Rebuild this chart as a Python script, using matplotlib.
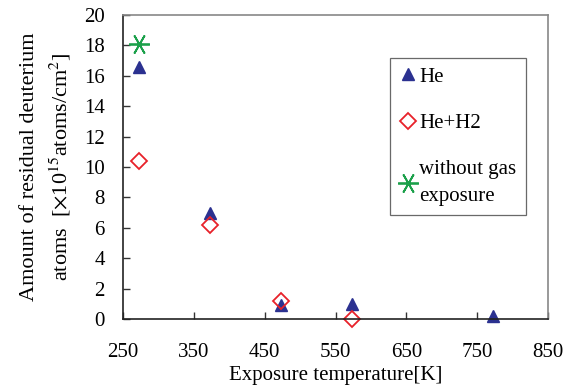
import matplotlib.pyplot as plt

plt.rcParams['font.family'] = ['Liberation Serif', 'DejaVu Serif']
plt.rcParams['mathtext.fontset'] = 'stix'

temp_he = [273, 373, 473, 573, 773]
d_he = [16.6, 7.0, 0.9, 1.0, 0.2]
temp_heh2 = [273, 373, 473, 573]
d_heh2 = [10.4, 6.2, 1.2, 0.0]
temp_nogas = [273]
d_nogas = [18.1]

fig = plt.figure(figsize=(5.73, 3.91), dpi=100)
ax = fig.add_axes([123 / 573, 1 - 319 / 391, 425 / 573, 304 / 391])

ax.plot(temp_he, d_he, '^', color='#2b3190', markersize=9, label='He', clip_on=False)
ax.plot(temp_heh2, d_heh2, 'D', mfc='none', mec='#e8212a', mew=1.3, markersize=8,
        label='He+H2', clip_on=False)
ax.plot(temp_nogas, d_nogas, marker=(6, 2, 30), ls='none', color='#1ba04a', markersize=15,
        mew=1.3, label='without gas\nexposure', clip_on=False)

ax.set_xlim(250, 850)
ax.set_ylim(0, 20)
ax.set_xticks(range(250, 851, 100))
ax.set_yticks(range(0, 21, 2))
ax.tick_params(direction='in', length=5, labelsize=15, color='#333333', width=1)
ax.tick_params(axis='x', pad=17)
ax.tick_params(axis='y', pad=13)
for side, sp in ax.spines.items():
    sp.set_color('#888888' if side in ('top', 'right') else '#222222')
    sp.set_linewidth(1.2)

ax.set_xlabel('Exposure temperature[K]', fontsize=15, labelpad=3)
ax.set_ylabel('Amount of residual deuterium\natoms  [$\\times$10$^{15}$atoms/cm$^{2}$]',
              fontsize=16, labelpad=8, linespacing=1.4)

leg = ax.legend(loc='upper left', bbox_to_anchor=(0.628, 0.86), fontsize=15,
                frameon=True, fancybox=False, edgecolor='#444444',
                handletextpad=0.15, handlelength=0.8, labelspacing=1.3,
                borderpad=0.45, borderaxespad=0)
leg.get_frame().set_linewidth(0.9)
for t in leg.get_texts():
    t.set_linespacing(1.55)

fig.savefig('out.png', dpi=100)
